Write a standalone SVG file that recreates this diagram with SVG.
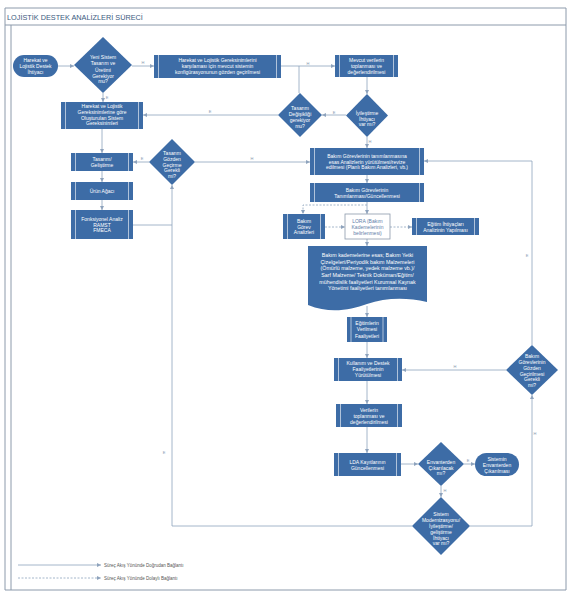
<svg xmlns="http://www.w3.org/2000/svg" width="576" height="600" viewBox="0 0 576 600">
<defs>
<marker id="a" viewBox="0 0 6 6" refX="6" refY="3" markerWidth="4" markerHeight="4" markerUnits="userSpaceOnUse" orient="auto"><path d="M0,0 L6,3 L0,6 z" fill="#8ea3bd"/></marker>
<style>
.n{fill:#3d6ca6}
.b{stroke:#fff;stroke-width:0.6}
.t{font-family:"Liberation Sans",Arial,sans-serif;font-size:5px;fill:#fff;text-anchor:middle;dominant-baseline:central}
.c{fill:none;stroke:#8ea3bd;stroke-width:0.8}
.d{stroke-dasharray:2 1.5}
.l{font-family:"Liberation Sans",Arial,sans-serif;font-size:4px;fill:#8a9ab0;text-anchor:middle;dominant-baseline:central}
.f{fill:none;stroke:#8c9aab;stroke-width:1}
.g{font-family:"Liberation Sans",Arial,sans-serif;font-size:4.5px;fill:#555;dominant-baseline:central}
</style>
</defs>
<rect width="576" height="600" fill="#fff"/>
<g id="frame">
<path class="f" d="M5,8 H566 V590 H5 Z M5,25 H566 M11,25 V590"/>
<text x="7" y="17" font-family="Liberation Sans,Arial,sans-serif" font-size="7.3" fill="#3b5a80" dominant-baseline="central">LOJİSTİK DESTEK ANALİZLERİ SÜRECİ</text>
</g>
<g id="connectors">
<path class="c" marker-end="url(#a)" d="M58,66 H74"/>
<path class="c" marker-end="url(#a)" d="M132,66 H154"/>
<path class="c" marker-end="url(#a)" d="M281,66 H335"/>
<path class="c" d="M299,66 V93"/>
<path class="c" marker-end="url(#a)" d="M103,93 V102"/>
<path class="c" marker-end="url(#a)" d="M367,77 V94"/>
<path class="c" marker-end="url(#a)" d="M346,115 H322"/>
<path class="c" marker-end="url(#a)" d="M278,115 H143"/>
<path class="c" marker-end="url(#a)" d="M367,137 V148"/>
<path class="c" marker-end="url(#a)" d="M102,129 V153"/>
<path class="c" marker-end="url(#a)" d="M102,171 V182"/>
<path class="c" marker-end="url(#a)" d="M102,200 V210"/>
<path class="c" marker-end="url(#a)" d="M149,162 H133"/>
<path class="c" marker-end="url(#a)" d="M195,162 H310"/>
<path class="c" d="M133,225 H172"/>
<path class="c" marker-end="url(#a)" d="M367,175 V183"/>
<path class="c" marker-end="url(#a)" d="M367,202 V214"/>
<path class="c d" marker-end="url(#a)" d="M367,205 H303 V214"/>
<path class="c d" marker-end="url(#a)" d="M325,227 H345"/>
<path class="c d" marker-end="url(#a)" d="M390,227 H412"/>
<path class="c" marker-end="url(#a)" d="M367,239 V246"/>
<path class="c" marker-end="url(#a)" d="M367,306 V317"/>
<path class="c" marker-end="url(#a)" d="M367,342 V358"/>
<path class="c" marker-end="url(#a)" d="M367,381 V404"/>
<path class="c" marker-end="url(#a)" d="M367,427 V453"/>
<path class="c" marker-end="url(#a)" d="M401,464 H418"/>
<path class="c" marker-end="url(#a)" d="M464,464 H475"/>
<path class="c" marker-end="url(#a)" d="M441,486 V497"/>
<path class="c" marker-end="url(#a)" d="M470,526 H532 V395"/>
<path class="c" marker-end="url(#a)" d="M412,526 H172 V185"/>
<path class="c" marker-end="url(#a)" d="M506,370 H402"/>
<path class="c" marker-end="url(#a)" d="M532,345 V161 H424"/>
<text class="l" x="143" y="62">H</text>
<text class="l" x="107" y="97">E</text>
<text class="l" x="308" y="63">H</text>
<text class="l" x="334" y="112">E</text>
<text class="l" x="210" y="111">E</text>
<text class="l" x="370" y="141">H</text>
<text class="l" x="142" y="158">E</text>
<text class="l" x="252" y="158">H</text>
<text class="l" x="468" y="460">E</text>
<text class="l" x="445" y="490">H</text>
<text class="l" x="535" y="433">H</text>
<text class="l" x="164" y="452">E</text>
<text class="l" x="455" y="366">H</text>
<text class="l" x="527" y="255">E</text>
</g>
<g id="n1"><rect class="n" x="13" y="55" width="45" height="22" rx="11"/><text class="t"><tspan x="35.5" y="60">Harekat ve</tspan><tspan x="35.5" y="66">Lojistik Destek</tspan><tspan x="35.5" y="71.5">İhtiyacı</tspan></text></g>
<g id="n2"><polygon class="n" points="103,37 132,65 103,93 74,65"/><text class="t"><tspan x="103" y="57">Yeni Sistem</tspan><tspan x="103" y="63">Tasarım ve</tspan><tspan x="103" y="69.5">Üretimi</tspan><tspan x="103" y="75.5">Gerekiyor</tspan><tspan x="103" y="81">mu?</tspan></text></g>
<g id="n3"><rect class="n" x="154" y="55" width="127" height="23"/><path class="b" d="M158.5,55 V78 M276.5,55 V78"/><text class="t"><tspan x="217.5" y="60">Harekat ve Lojistik Gereksinimlerini</tspan><tspan x="217.5" y="66">karşılaması için mevcut sistemin</tspan><tspan x="217.5" y="72">konfigürasyonunun gözden geçirilmesi</tspan></text></g>
<g id="n4"><rect class="n" x="61" y="102" width="82" height="27"/><path class="b" d="M65.5,102 V129 M138.5,102 V129"/><text class="t"><tspan x="102" y="106">Harekat ve Lojistik</tspan><tspan x="102" y="112">Gereksinimlerine göre</tspan><tspan x="102" y="117.5">Oluşturulan Sistem</tspan><tspan x="102" y="123">Gereksinimleri</tspan></text></g>
<g id="n5"><rect class="n" x="335" y="55" width="63" height="22"/><path class="b" d="M339.5,55 V77 M393.5,55 V77"/><text class="t"><tspan x="366.5" y="60">Mevcut verilerin</tspan><tspan x="366.5" y="66">toplanması ve</tspan><tspan x="366.5" y="72">değerlendirilmesi</tspan></text></g>
<g id="n6"><polygon class="n" points="300,93 322,115 300,137 278,115"/><text class="t"><tspan x="300" y="108">Tasarım</tspan><tspan x="300" y="114">Değişikliği</tspan><tspan x="300" y="120">gerekiyor</tspan><tspan x="300" y="126">mu?</tspan></text></g>
<g id="n7"><polygon class="n" points="367,94 388,115.5 367,137 346,115.5"/><text class="t"><tspan x="367" y="113">İyileştirme</tspan><tspan x="367" y="118.5">İhtiyacı</tspan><tspan x="367" y="124">var mı?</tspan></text></g>
<g id="n8"><rect class="n" x="310" y="148" width="114" height="27"/><path class="b" d="M314.5,148 V175 M419.5,148 V175"/><text class="t"><tspan x="367" y="156">Bakım Görevlerinin tanımlanmasına</tspan><tspan x="367" y="161.5">esas Analizlerin yürütülmesi/revize</tspan><tspan x="367" y="167">edilmesi (Planlı Bakım Analizleri, vb.)</tspan></text></g>
<g id="n9"><rect class="n" x="310" y="183" width="114" height="19"/><path class="b" d="M314.5,183 V202 M419.5,183 V202"/><text class="t"><tspan x="367" y="189.5">Bakım Görevlerinin</tspan><tspan x="367" y="196">Tanımlanması/Güncellenmesi</tspan></text></g>
<g id="n10"><rect class="n" x="283" y="214" width="42" height="25"/><path class="b" d="M287.5,214 V239 M320.5,214 V239"/><text class="t"><tspan x="304" y="221">Bakım</tspan><tspan x="304" y="226.5">Görev</tspan><tspan x="304" y="232">Analizleri</tspan></text></g>
<g id="n11"><rect x="345" y="214" width="45" height="25" fill="#fff" stroke="#8c9aab" stroke-width="0.8"/><text class="t" style="fill:#5f7ea8"><tspan x="367.5" y="221">LORA (Bakım</tspan><tspan x="367.5" y="227">Kademelerinin</tspan><tspan x="367.5" y="233">belirlenmesi)</tspan></text></g>
<g id="n12"><rect class="n" x="412" y="218" width="67" height="17"/><path class="b" d="M416.5,218 V235 M474.5,218 V235"/><text class="t"><tspan x="445.5" y="223.5">Eğitim İhtiyaçları</tspan><tspan x="445.5" y="229.5">Analizinin Yapılması</tspan></text></g>
<g id="n13"><path class="n" d="M308,246 H427 V302 C405,297 385,298 367,304 C350,310 330,314 308,305 Z"/><text class="t" style="font-size:5.3px"><tspan x="367.5" y="255">Bakım kademelerine esas; Bakım Yetki</tspan><tspan x="367.5" y="261.5">Çizelgeleri/Periyodik bakım Malzemeleri</tspan><tspan x="367.5" y="268">(Ömürlü malzeme, yedek malzeme vb.)/</tspan><tspan x="367.5" y="275">Sarf Malzeme/ Teknik Doküman/Eğitim/</tspan><tspan x="367.5" y="281.5">mühendislik faaliyetleri Kurumsal Kaynak</tspan><tspan x="367.5" y="288">Yönetimi faaliyetleri tanımlanması</tspan></text></g>
<g id="n14"><rect class="n" x="347" y="317" width="40" height="25"/><path class="b" d="M351,317 V342 M383,317 V342"/><text class="t"><tspan x="367" y="323">Eğitimlerin</tspan><tspan x="367" y="329">Verilmesi</tspan><tspan x="367" y="335.5">Faaliyetleri</tspan></text></g>
<g id="n15"><rect class="n" x="334" y="358" width="68" height="23"/><path class="b" d="M338.5,358 V381 M397.5,358 V381"/><text class="t"><tspan x="368" y="363">Kullanım ve Destek</tspan><tspan x="368" y="369">Faaliyetlerinin</tspan><tspan x="368" y="374.5">Yürütülmesi</tspan></text></g>
<g id="n16"><rect class="n" x="336" y="404" width="66" height="23"/><path class="b" d="M340.5,404 V427 M397.5,404 V427"/><text class="t"><tspan x="369" y="410">Verilerin</tspan><tspan x="369" y="416">toplanması ve</tspan><tspan x="369" y="422">değerlendirilmesi</tspan></text></g>
<g id="n17"><rect class="n" x="334" y="453" width="67" height="23"/><path class="b" d="M338.5,453 V476 M396.5,453 V476"/><text class="t"><tspan x="367.5" y="462">LDA Kayıtlarının</tspan><tspan x="367.5" y="467.5">Güncellenmesi</tspan></text></g>
<g id="n18"><polygon class="n" points="441,442 464,464 441,486 418,464"/><text class="t"><tspan x="441" y="462">Envanterden</tspan><tspan x="441" y="467.5">Çıkarılacak</tspan><tspan x="441" y="473">mı?</tspan></text></g>
<g id="n19"><rect class="n" x="475" y="453" width="44" height="23" rx="11.5"/><text class="t"><tspan x="497" y="458.5">Sistemin</tspan><tspan x="497" y="464.5">Envanterden</tspan><tspan x="497" y="470.5">Çıkarılması</tspan></text></g>
<g id="n20"><polygon class="n" points="441,497 470,526 441,555 412,526"/><text class="t"><tspan x="441" y="514">Sistem</tspan><tspan x="441" y="520">Modernizasyonu/</tspan><tspan x="441" y="526">İyileştirme/</tspan><tspan x="441" y="531.5">geliştirme</tspan><tspan x="441" y="537.5">İhtiyacı</tspan><tspan x="441" y="543">var mı?</tspan></text></g>
<g id="n21"><polygon class="n" points="532,345 558,370 532,395 506,370"/><text class="t"><tspan x="532" y="356">Bakım</tspan><tspan x="532" y="362">Görevlerinin</tspan><tspan x="532" y="368">Gözden</tspan><tspan x="532" y="373.5">Geçirilmesi</tspan><tspan x="532" y="379">Gerekli</tspan><tspan x="532" y="384.5">mi?</tspan></text></g>
<g id="n22"><polygon class="n" points="172,139 195,162 172,185 149,162"/><text class="t"><tspan x="172" y="153">Tasarım</tspan><tspan x="172" y="159">Gözden</tspan><tspan x="172" y="164.5">Geçirme</tspan><tspan x="172" y="170">Gerekli</tspan><tspan x="172" y="176">mi?</tspan></text></g>
<g id="n23"><rect class="n" x="71" y="153" width="62" height="18"/><path class="b" d="M75.5,153 V171 M128.5,153 V171"/><text class="t"><tspan x="102" y="159">Tasarım/</tspan><tspan x="102" y="165">Geliştirme</tspan></text></g>
<g id="n24"><rect class="n" x="71" y="182" width="62" height="18"/><path class="b" d="M75.5,182 V200 M128.5,182 V200"/><text class="t"><tspan x="102" y="191">Ürün Ağacı</tspan></text></g>
<g id="n25"><rect class="n" x="71" y="210" width="62" height="29"/><path class="b" d="M75.5,210 V239 M128.5,210 V239"/><text class="t"><tspan x="102" y="219">Fonksiyonel Analiz</tspan><tspan x="102" y="224.5">RAMST</tspan><tspan x="102" y="230">FMECA</tspan></text></g>
<g id="legend">
<path class="c" marker-end="url(#a)" d="M18,565 H101"/>
<path class="c d" marker-end="url(#a)" d="M18,578 H101"/>
<text class="g" x="104" y="565">Süreç Akış Yönünde Doğrudan Bağlantı</text>
<text class="g" x="104" y="578">Süreç Akış Yönünde Dolaylı Bağlantı</text>
</g>
</svg>
